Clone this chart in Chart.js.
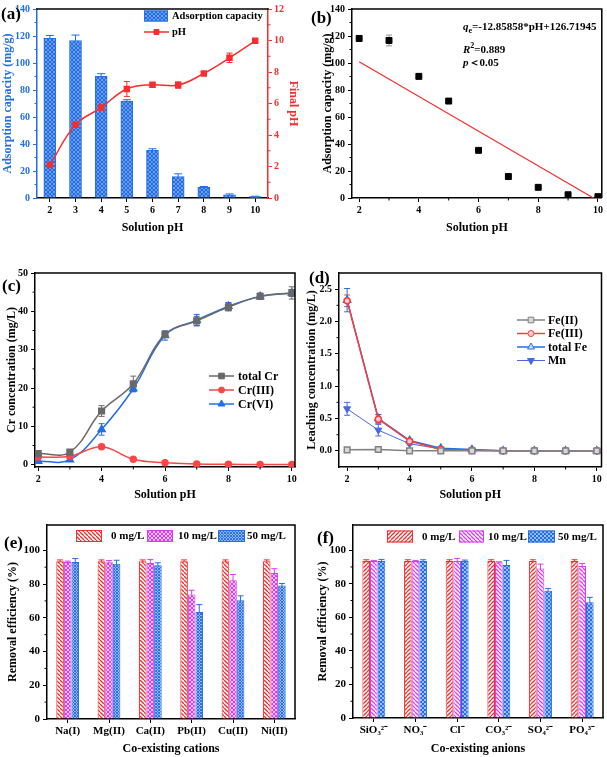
<!DOCTYPE html>
<html><head><meta charset="utf-8">
<script src="https://cdn.jsdelivr.net/npm/chart.js@4.4.1/dist/chart.umd.min.js"></script>
<style>
html,body{margin:0;padding:0;background:#fff;}
body{width:607px;height:757px;position:relative;overflow:hidden;font-family:"Liberation Serif","Times New Roman",serif;}
canvas{position:absolute;}
.tag{position:absolute;font-weight:bold;font-size:17px;line-height:17px;white-space:nowrap;}
.note{position:absolute;font-weight:bold;font-size:11px;line-height:12px;white-space:nowrap;}
</style></head><body>
<canvas id="ca" width="303" height="245" style="left:0;top:0"></canvas>
<canvas id="cb" width="304" height="245" style="left:303px;top:0"></canvas>
<canvas id="cc" width="303" height="252" style="left:0;top:250px"></canvas>
<canvas id="cd" width="304" height="252" style="left:303px;top:250px"></canvas>
<canvas id="ce" width="303" height="257" style="left:0;top:500px"></canvas>
<canvas id="cf" width="304" height="257" style="left:303px;top:500px"></canvas>
<div class="tag" style="left:1px;top:5px">(a)</div>
<div class="tag" style="left:311px;top:9px">(b)</div>
<div class="tag" style="left:2px;top:277px">(c)</div>
<div class="tag" style="left:309px;top:269px">(d)</div>
<div class="tag" style="left:4px;top:534px">(e)</div>
<div class="tag" style="left:317px;top:529px">(f)</div>
<div class="note" style="left:463px;top:20px"><i>q</i><sub style="font-size:8px">e</sub>=-12.85858*pH+126.71945</div>
<div class="note" style="left:463px;top:40px"><i>R</i><sup style="font-size:8px">2</sup>=0.889</div>
<div class="note" style="left:463px;top:56px"><i>p</i>＜0.05</div>
<script>
// ---------------- data ----------------
const phLevels = [2, 3, 4, 5, 6, 7, 8, 9, 10];
const phTicks = [2, 4, 6, 8, 10];
const adsTicks = [0, 20, 40, 60, 80, 100, 120, 140];
const finalPHTicks = [0, 2, 4, 6, 8, 10, 12];
const crTicks = [0, 10, 20, 30, 40, 50];
const leachTicks = [0, 0.5, 1.0, 1.5, 2.0, 2.5];
const effTicks = [0, 20, 40, 60, 80, 100];

const adsCapacity = [118.2, 116.7, 90.1, 71.8, 35.3, 15.9, 7.9, 2.4, 1.0];
const adsCapacityErr = [2.2, 4.0, 2.0, 1.0, 1.2, 2.0, 0.6, 0.6, 0.3];
const finalPH = [2.09, 4.65, 5.74, 6.92, 7.19, 7.17, 7.91, 8.90, 9.98];
const finalPHErr = [0.6, 0.46, 0.3, 0.47, 0.1, 0.2, 0.12, 0.3, 0.06];
const fitLineX = [2, 9.85];
const fitLineY = [101.0, 0];

const totalCr = [2.9, 3.3, 14.0, 21.1, 34.0, 37.5, 41.1, 43.9, 44.8];
const totalCrErr = [0.4, 0.6, 1.4, 2.0, 0.8, 1.2, 1.0, 0.8, 1.6];
const cr3 = [2.0, 2.2, 4.7, 1.4, 0.5, 0.2, 0.1, 0.05, 0.05];
const cr3Err = [0.3, 0.3, 0.4, 0.3, 0.2, 0.1, 0.1, 0.1, 0.1];
const cr6 = [0.9, 1.3, 9.2, 19.8, 33.7, 37.7, 41.3, 43.9, 44.8];
const cr6Err = [0.3, 0.4, 1.5, 0.8, 1.2, 1.5, 1.0, 0.8, 0.9];

const fe2 = [0.015, 0.02, 0, 0, 0, 0, 0, 0, 0];
const fe2Err = [0.01, 0.01, 0, 0, 0, 0, 0, 0, 0];
const fe3 = [2.32, 0.49, 0.15, 0.02, 0.01, 0, 0, 0, 0];
const fe3Err = [0.09, 0.07, 0.02, 0.01, 0, 0, 0, 0, 0];
const feTotal = [2.33, 0.50, 0.16, 0.04, 0.02, 0, 0, 0, 0];
const feTotalErr = [0.18, 0.06, 0.03, 0.01, 0.01, 0, 0, 0, 0];
const mn = [0.65, 0.32, 0.11, 0.03, 0.01, 0, 0, 0, 0];
const mnErr = [0.1, 0.09, 0.02, 0.01, 0, 0, 0, 0, 0];

const cations = ['Na(I)', 'Mg(II)', 'Ca(II)', 'Pb(II)', 'Cu(II)', 'Ni(II)'];
const cat0 = [93.5, 93.5, 93.5, 93.5, 93.5, 93.5];
const cat0Err = [0.8, 0.8, 0.8, 0.8, 0.8, 0.8];
const cat10 = [93.1, 92.9, 92.5, 73.8, 82.2, 86.6];
const cat10Err = [0.5, 1.0, 2.0, 2.5, 3.5, 2.5];
const cat50 = [93.1, 92.1, 91.1, 63.5, 70.4, 79.1];
const cat50Err = [2.0, 2.0, 1.5, 4.3, 2.6, 1.2];

const anions = ['SiO₃²⁻', 'NO₃⁻', 'Cl⁻', 'CO₃²⁻', 'SO₄²⁻', 'PO₄³⁻'];
const an0 = [93.5, 93.5, 93.5, 93.5, 93.5, 93.5];
const an0Err = [0.8, 0.8, 0.8, 0.8, 0.8, 0.8];
const an10 = [93.5, 93.5, 93.5, 92.7, 89.1, 90.5];
const an10Err = [0.4, 0.4, 1.6, 0.4, 2.6, 1.6];
const an50 = [93.5, 93.5, 93.5, 91.1, 75.8, 68.9];
const an50Err = [1.0, 0.8, 0.6, 2.8, 1.4, 3.0];

// ---------------- styles ----------------
const BLUE = 'rgb(35,110,228)';
const RED = 'rgb(248,45,45)';
const MAG = 'rgb(214,60,240)';
const GRAY = 'rgb(105,105,105)';
const FONT = "'Liberation Serif','Times New Roman',serif";

Chart.defaults.font.family = FONT;
Chart.defaults.font.weight = 'bold';
Chart.defaults.font.size = 10;
Chart.defaults.color = '#000';
Chart.defaults.animation = false;
Chart.defaults.plugins.legend.display = false;
Chart.defaults.plugins.tooltip.enabled = false;

function mkPattern(color, kind, s, lw) {
  const c = document.createElement('canvas'); c.width = s; c.height = s;
  const g = c.getContext('2d');
  g.fillStyle = '#fff'; g.fillRect(0, 0, s, s);
  g.strokeStyle = color; g.lineWidth = lw || 1.1;
  const back = () => { for (const k of [-s, 0, s]) { g.beginPath(); g.moveTo(k, 0); g.lineTo(k + s, s); g.stroke(); } };
  const fwd = () => { for (const k of [-s, 0, s]) { g.beginPath(); g.moveTo(k + s, 0); g.lineTo(k, s); g.stroke(); } };
  if (kind === 'back') back(); else if (kind === 'fwd') fwd(); else { back(); fwd(); }
  return g.createPattern(c, 'repeat');
}

function drawMarker(ctx, style, x, y, r, rot, fill, stroke, bw) {
  ctx.save(); ctx.translate(x, y); ctx.rotate((rot || 0) * Math.PI / 180);
  ctx.beginPath();
  if (style === 'rect') { const s = r * Math.SQRT1_2; ctx.rect(-s, -s, 2 * s, 2 * s); }
  else if (style === 'triangle') { ctx.moveTo(0, -r); ctx.lineTo(r * 0.866, r * 0.5); ctx.lineTo(-r * 0.866, r * 0.5); ctx.closePath(); }
  else ctx.arc(0, 0, r, 0, Math.PI * 2);
  ctx.fillStyle = fill; ctx.fill();
  ctx.strokeStyle = stroke; ctx.lineWidth = bw; ctx.stroke();
  ctx.restore();
}

// error bars through the chart's own scales
const errPlugin = {
  id: 'errbars',
  beforeDatasetsDraw(chart) {
    const ctx = chart.ctx;
    chart.data.datasets.forEach((ds, i) => {
      if (!ds.errors) return;
      const meta = chart.getDatasetMeta(i);
      const ys = chart.scales[meta.yAxisID];
      ctx.save();
      ctx.strokeStyle = ds.errColor || ds.borderColor; ctx.lineWidth = 1;
      const cap = ds.errCap || 3;
      meta.data.forEach((el, j) => {
        const e = ds.errors[j]; if (!e) return;
        const d = ds.data[j]; const v = typeof d === 'object' ? d.y : d;
        const x = el.x, y1 = ys.getPixelForValue(v + e), y2 = ys.getPixelForValue(v - e);
        ctx.beginPath();
        ctx.moveTo(x, y1); ctx.lineTo(x, y2);
        ctx.moveTo(x - cap, y1); ctx.lineTo(x + cap, y1);
        ctx.moveTo(x - cap, y2); ctx.lineTo(x + cap, y2);
        ctx.stroke();
      });
      ctx.restore();
    });
  }
};

const framePlugin = {
  id: 'frame',
  afterDraw(chart, a, o) {
    if (!o || !o.sides) return;
    const { left, right, top, bottom } = chart.chartArea;
    const ctx = chart.ctx;
    ctx.save(); ctx.strokeStyle = '#000'; ctx.lineWidth = 1.5;
    ctx.beginPath();
    if (o.sides.includes('top')) { ctx.moveTo(left - 0.75, top); ctx.lineTo(right + 0.75, top); }
    if (o.sides.includes('right')) { ctx.moveTo(right, top); ctx.lineTo(right, bottom); }
    ctx.stroke(); ctx.restore();
  }
};

const minorPlugin = {
  id: 'minor',
  afterDraw(chart, a, o) {
    if (!o || !o.scales) return;
    const ctx = chart.ctx; const ca = chart.chartArea;
    o.scales.forEach(id => {
      const s = chart.scales[id];
      const vals = s.ticks.map(t => t.value);
      ctx.save(); ctx.strokeStyle = s.options.border.color; ctx.lineWidth = 1;
      ctx.beginPath();
      for (let i = 0; i < vals.length - 1; i++) {
        const p = s.getPixelForValue((vals[i] + vals[i + 1]) / 2);
        if (s.position === 'left') { ctx.moveTo(ca.left, p); ctx.lineTo(ca.left - 2.5, p); }
        else if (s.position === 'right') { ctx.moveTo(ca.right, p); ctx.lineTo(ca.right + 2.5, p); }
        else { ctx.moveTo(p, ca.bottom); ctx.lineTo(p, ca.bottom + 2.5); }
      }
      ctx.stroke(); ctx.restore();
    });
  }
};

const legendPlugin = {
  id: 'lg',
  afterDraw(chart, a, o) {
    if (!o || !o.items) return;
    const ctx = chart.ctx;
    ctx.save();
    ctx.font = 'bold ' + o.size + 'px ' + FONT;
    ctx.textBaseline = 'middle'; ctx.textAlign = 'left';
    o.items.forEach(it => {
      const ds = chart.data.datasets[it.ds];
      if (it.kind === 'box') {
        ctx.fillStyle = ds.backgroundColor; ctx.fillRect(it.x, it.y - it.h / 2, it.w, it.h);
        ctx.strokeStyle = ds.borderColor; ctx.lineWidth = 1;
        ctx.strokeRect(it.x + 0.5, it.y - it.h / 2 + 0.5, it.w - 1, it.h - 1);
      } else {
        ctx.strokeStyle = ds.borderColor; ctx.lineWidth = ds.borderWidth || 1.5;
        ctx.beginPath(); ctx.moveTo(it.x, it.y); ctx.lineTo(it.x + it.w, it.y); ctx.stroke();
        drawMarker(ctx, ds.pointStyle, it.x + it.w / 2, it.y, ds.pointRadius, ds.pointRotation,
          ds.pointBackgroundColor || ds.borderColor, ds.borderColor, 1);
      }
      ctx.fillStyle = '#000';
      ctx.fillText(ds.label, it.tx, it.y + 0.5);
    });
    ctx.restore();
  }
};

Chart.register(errPlugin, framePlugin, minorPlugin, legendPlugin);

function linAxis(o) {
  const horiz = o.pos === 'bottom';
  const color = o.color || '#000';
  return {
    type: 'linear', position: o.pos, min: o.min, max: o.max,
    afterBuildTicks: s => { s.ticks = o.ticks.map(v => ({ value: v })); },
    afterFit: s => { if (horiz) s.height = o.size; else s.width = o.size; },
    border: { display: true, color: color, width: 1.5 },
    grid: { display: true, drawOnChartArea: false, drawTicks: true, tickLength: 4, color: color, lineWidth: 1 },
    ticks: { color: color, padding: o.tpad == null ? 2 : o.tpad, font: { size: o.tsize || 10, weight: 'bold' },
      callback: o.fmt || (v => String(v)), maxRotation: 0, autoSkip: false },
    title: { display: !!o.title, text: o.title, color: color, font: { size: o.titleSize || 12, weight: 'bold' },
      padding: horiz ? { top: 0, bottom: o.titlePad } : { top: o.titlePad, bottom: 0 } }
  };
}
function catAxis(o) {
  return {
    type: 'category', position: 'bottom', offset: true,
    afterFit: s => { s.height = o.size; },
    border: { display: true, color: '#000', width: 1.5 },
    grid: { display: true, offset: false, drawOnChartArea: false, drawTicks: true, tickLength: 4, color: '#000' },
    ticks: { padding: 2, font: { size: o.tsize || 10, weight: 'bold' }, maxRotation: 0, autoSkip: false },
    title: { display: true, text: o.title, font: { size: 12, weight: 'bold' }, padding: { top: 0, bottom: o.titlePad } }
  };
}
const pts = arr => phLevels.map((x, i) => ({ x: x, y: arr[i] }));

// ---------------- (a) ----------------
new Chart(document.getElementById('ca'), {
  type: 'bar',
  data: {
    labels: phLevels.map(String),
    datasets: [
      { label: 'Adsorption capacity', data: adsCapacity, errors: adsCapacityErr, errCap: 4, yAxisID: 'y', order: 2,
        backgroundColor: mkPattern(BLUE, 'cross', 4, 1.6), borderColor: BLUE, borderWidth: 1, barThickness: 12 },
      { type: 'line', label: 'pH', data: finalPH, errors: finalPHErr, errCap: 3, yAxisID: 'y2', order: 1,
        borderColor: RED, backgroundColor: RED, borderWidth: 1.5, tension: 0.4,
        pointStyle: 'rect', pointRadius: 3.5, pointBackgroundColor: RED, pointBorderColor: RED }
    ]
  },
  options: {
    responsive: false,
    layout: { padding: { top: 4, right: 0, left: 0, bottom: 0 } },
    scales: {
      x: catAxis({ size: 47, title: 'Solution pH', titlePad: 10 }),
      y: linAxis({ pos: 'left', min: 0, max: 140, ticks: adsTicks, color: BLUE, size: 37, title: 'Adsorption capacity (mg/g)', titlePad: 1, tpad: 3 }),
      y2: linAxis({ pos: 'right', min: 0, max: 12, ticks: finalPHTicks, color: RED, size: 35, title: 'Final pH', titlePad: 3 })
    },
    plugins: {
      frame: { sides: ['top'] },
      minor: { scales: ['y', 'y2'] },
      lg: { size: 10.5, items: [
        { ds: 0, kind: 'box', x: 144, y: 16, w: 24, h: 11, tx: 172 },
        { ds: 1, kind: 'line', x: 144, y: 32, w: 25, tx: 172 } ] }
    }
  }
});

// ---------------- (b) ----------------
new Chart(document.getElementById('cb'), {
  type: 'line',
  data: {
    datasets: [
      { label: 'fit', data: fitLineX.map((x, i) => ({ x: x, y: fitLineY[i] })), borderColor: RED, borderWidth: 1.2, pointRadius: 0, tension: 0 },
      { label: 'qe', data: pts(adsCapacity), errors: adsCapacityErr, errColor: 'rgb(150,150,150)', errCap: 3, showLine: false,
        pointStyle: 'rect', pointRadius: 4.2, pointBackgroundColor: '#000', pointBorderColor: '#000', borderColor: '#000' }
    ]
  },
  options: {
    responsive: false,
    layout: { padding: { top: 4, right: 4, left: 0, bottom: 0 } },
    scales: {
      x: linAxis({ pos: 'bottom', min: 1.76, max: 10.13, ticks: phTicks, size: 47, title: 'Solution pH', titlePad: 10 }),
      y: linAxis({ pos: 'left', min: 0, max: 140, ticks: adsTicks, size: 49, title: 'Adsorption capacity (mg/g)', titlePad: 18, tpad: 3 })
    },
    plugins: { frame: { sides: ['top', 'right'] }, minor: { scales: ['x', 'y'] } }
  }
});

// ---------------- (c) ----------------
new Chart(document.getElementById('cc'), {
  type: 'line',
  data: {
    datasets: [
      { label: 'total Cr', data: pts(totalCr), errors: totalCrErr, borderColor: GRAY, borderWidth: 1.5, tension: 0.4,
        pointStyle: 'rect', pointRadius: 4, pointBackgroundColor: GRAY, pointBorderColor: GRAY },
      { label: 'Cr(III)', data: pts(cr3), errors: cr3Err, borderColor: 'rgb(250,70,70)', borderWidth: 1.5, tension: 0.4,
        pointStyle: 'circle', pointRadius: 3, pointBackgroundColor: 'rgb(250,70,70)', pointBorderColor: 'rgb(250,70,70)' },
      { label: 'Cr(VI)', data: pts(cr6), errors: cr6Err, borderColor: BLUE, borderWidth: 1.5, tension: 0.4,
        pointStyle: 'triangle', pointRadius: 4, pointBackgroundColor: BLUE, pointBorderColor: BLUE }
    ]
  },
  options: {
    responsive: false,
    layout: { padding: { top: 23, right: 8, left: 0, bottom: 0 } },
    scales: {
      x: linAxis({ pos: 'bottom', min: 1.9, max: 10.1, ticks: phTicks, size: 35, title: 'Solution pH', titlePad: 0 }),
      y: linAxis({ pos: 'left', min: -0.6, max: 50, ticks: crTicks, size: 35, title: 'Cr concentration (mg/L)', titlePad: 5, tpad: 3 })
    },
    plugins: {
      frame: { sides: ['top', 'right'] }, minor: { scales: ['x', 'y'] },
      lg: { size: 12, items: [
        { ds: 0, kind: 'line', x: 209, y: 126, w: 25, tx: 238 },
        { ds: 1, kind: 'line', x: 209, y: 140, w: 25, tx: 238 },
        { ds: 2, kind: 'line', x: 209, y: 154, w: 25, tx: 238 } ] }
    }
  }
});

// ---------------- (d) ----------------
new Chart(document.getElementById('cd'), {
  type: 'line',
  data: {
    datasets: [
      { label: 'Fe(II)', data: pts(fe2), errors: fe2Err, borderColor: 'rgb(130,130,130)', borderWidth: 1.5, tension: 0,
        pointStyle: 'rect', pointRadius: 4, pointBackgroundColor: 'rgb(215,215,215)', pointBorderColor: 'rgb(130,130,130)' },
      { label: 'Fe(III)', data: pts(fe3), errors: fe3Err, borderColor: 'rgb(250,60,60)', borderWidth: 1.5, tension: 0,
        pointStyle: 'circle', pointRadius: 3, pointBackgroundColor: 'rgb(255,205,205)', pointBorderColor: 'rgb(250,60,60)' },
      { label: 'total Fe', data: pts(feTotal), errors: feTotalErr, borderColor: BLUE, borderWidth: 1.5, tension: 0,
        pointStyle: 'triangle', pointRadius: 4, pointBackgroundColor: 'rgb(200,220,250)', pointBorderColor: BLUE },
      { label: 'Mn', data: pts(mn), errors: mnErr, borderColor: 'rgb(70,105,225)', borderWidth: 1, tension: 0,
        pointStyle: 'triangle', pointRotation: 180, pointRadius: 4, pointBackgroundColor: 'rgb(70,105,225)', pointBorderColor: 'rgb(70,105,225)' }
    ]
  },
  options: {
    responsive: false,
    layout: { padding: { top: 23, right: 3, left: 0, bottom: 0 } },
    scales: {
      x: linAxis({ pos: 'bottom', min: 1.74, max: 10.15, ticks: phTicks, size: 35, title: 'Solution pH', titlePad: 0 }),
      y: linAxis({ pos: 'left', min: -0.25, max: 2.75, ticks: leachTicks, size: 36, title: 'Leaching concentration (mg/L)', titlePad: 2, tpad: 3,
        fmt: v => Number(v).toFixed(1) })
    },
    plugins: {
      frame: { sides: ['top', 'right'] }, minor: { scales: ['x', 'y'] },
      lg: { size: 12, items: [
        { ds: 0, kind: 'line', x: 214, y: 70, w: 28, tx: 245 },
        { ds: 1, kind: 'line', x: 214, y: 83.5, w: 28, tx: 245 },
        { ds: 2, kind: 'line', x: 214, y: 97, w: 28, tx: 245 },
        { ds: 3, kind: 'line', x: 214, y: 110.5, w: 28, tx: 245 } ] }
    }
  }
});

// ---------------- (e) ----------------
function effChart(id, labels, sets, pats, xTitle, ysize, ytPad, xsize, lgItems) {
  new Chart(document.getElementById(id), {
    type: 'bar',
    data: {
      labels: labels,
      datasets: sets.map((s, k) => ({ label: s.label, data: s.data, errors: s.err, errCap: 3,
        backgroundColor: pats[k].p, borderColor: pats[k].c, borderWidth: 1,
        categoryPercentage: 0.55, barPercentage: 1.0 }))
    },
    options: {
      responsive: false,
      layout: { padding: { top: 25, right: id === 'ce' ? 8 : 4, left: 0, bottom: 0 } },
      scales: {
        x: catAxis({ size: xsize, title: xTitle, titlePad: 1, tsize: 11 }),
        y: linAxis({ pos: 'left', min: 0, max: 115, ticks: effTicks, size: ysize, title: 'Removal efficiency (%)', titlePad: ytPad, tpad: 3, tsize: 11 })
      },
      plugins: { frame: { sides: ['top', 'right'] }, minor: { scales: ['y'] }, lg: { size: 11, items: lgItems } }
    }
  });
}
effChart('ce', cations,
  [{ label: '0 mg/L', data: cat0, err: cat0Err }, { label: '10 mg/L', data: cat10, err: cat10Err }, { label: '50 mg/L', data: cat50, err: cat50Err }],
  [{ p: mkPattern(RED, 'back', 4, 1.3), c: RED }, { p: mkPattern(MAG, 'cross', 4, 1.2), c: MAG }, { p: mkPattern(BLUE, 'cross', 3, 1.1), c: BLUE }],
  'Co-existing cations', 47, 6, 38,
  [{ ds: 0, kind: 'box', x: 76, y: 36, w: 26, h: 12, tx: 111 },
   { ds: 1, kind: 'box', x: 147, y: 36, w: 26, h: 12, tx: 178 },
   { ds: 2, kind: 'box', x: 218, y: 36, w: 27, h: 12, tx: 247 }]);

// ---------------- (f) ----------------
effChart('cf', anions,
  [{ label: '0 mg/L', data: an0, err: an0Err }, { label: '10 mg/L', data: an10, err: an10Err }, { label: '50 mg/L', data: an50, err: an50Err }],
  [{ p: mkPattern(RED, 'fwd', 4, 1.3), c: RED }, { p: mkPattern(MAG, 'back', 4, 1.3), c: MAG }, { p: mkPattern(BLUE, 'cross', 4, 1.3), c: BLUE }],
  'Co-existing anions', 50, 13, 39,
  [{ ds: 0, kind: 'box', x: 84, y: 36.5, w: 26, h: 12, tx: 119 },
   { ds: 1, kind: 'box', x: 156, y: 36.5, w: 25, h: 12, tx: 185 },
   { ds: 2, kind: 'box', x: 225, y: 36.5, w: 27, h: 12, tx: 255 }]);
</script>
</body></html>
